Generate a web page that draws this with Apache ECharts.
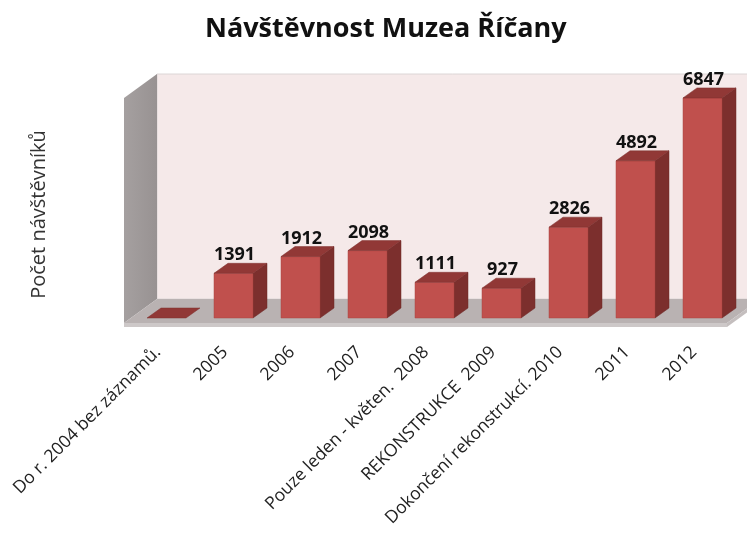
<!DOCTYPE html>
<html lang="cs">
<head>
    <meta charset="UTF-8">
    <title>Návštěvnost Muzea Říčany</title>
    <script src="https://cdn.jsdelivr.net/npm/echarts@6/dist/echarts.min.js"></script>
    <style>
        html, body { margin: 0; padding: 0; background: #fff; }
        #main { width: 747px; height: 533px; }
    </style>
</head>
<body>
<div id="main"></div>
<script>
    var categories = ['Do r. 2004 bez záznamů.', '2005', '2006', '2007', 'Pouze leden - květen.  2008',
        'REKONSTRUKCE  2009', 'Dokončení rekonstrukcí. 2010', '2011', '2012'];
    var visitors = [0, 1391, 1912, 2098, 1111, 927, 2826, 4892, 6847];
    var yMax = 7000;

    // hloubka 3D efektu (px)
    var WALL_DX = 33, WALL_DY = -24;
    var BAR_DX = 14, BAR_DY = -10;
    var BAR_W = 39;

    var font = '"Open Sans", Lato, sans-serif';
    var myChart = echarts.init(document.getElementById('main'));

    function renderWalls(params, api) {
        var cs = params.coordSys;
        var zero = api.coord([0, 0])[1];
        var h = api.size([0, yMax])[1];
        var x0 = cs.x - 9, x1 = cs.x + cs.width - 9;
        var yf = zero + 5;                 // predni hrana podlahy
        var yb = yf + WALL_DY;             // zadni hrana podlahy
        var xb0 = x0 + WALL_DX, xb1 = x1 + WALL_DX;
        return {
            type: 'group',
            children: [
                {   // zadni stena
                    type: 'polygon',
                    shape: {points: [[xb0, yb - h], [xb1, yb - h], [xb1, yb], [xb0, yb]]},
                    style: {fill: '#f5e9e9', stroke: '#dcd6d6', lineWidth: 1}
                },
                {   // bocni stena
                    type: 'polygon',
                    shape: {points: [[x0, yf - h], [xb0, yb - h], [xb0, yb], [x0, yf]]},
                    style: {
                        fill: new echarts.graphic.LinearGradient(0, 0, 1, 0, [
                            {offset: 0, color: '#a5a0a0'}, {offset: 1, color: '#989292'}
                        ])
                    }
                },
                {   // podlaha
                    type: 'polygon',
                    shape: {points: [[x0, yf], [xb0, yb], [xb1, yb], [x1, yf]]},
                    style: {fill: '#b9b2b2'}
                },
                {   // okraj podlahy
                    type: 'polygon',
                    shape: {points: [[x0, yf], [x1, yf], [x1, yf + 4], [x0, yf + 4]]},
                    style: {fill: '#cdc8c8'}
                },
                {
                    type: 'polygon',
                    shape: {points: [[x1, yf], [xb1, yb], [xb1, yb + 4], [x1, yf + 4]]},
                    style: {fill: '#c4bebe'}
                }
            ]
        };
    }

    function renderBar(params, api) {
        var idx = api.value(0), val = api.value(1);
        var top = api.coord([idx, val]);
        var base = api.coord([idx, 0]);
        var xl = top[0] - BAR_W / 2, xr = top[0] + BAR_W / 2;
        var yt = top[1], yb = base[1];
        var children = [];
        if (yb - yt > 0.5) {
            children.push({
                type: 'polygon',
                shape: {points: [[xr, yt], [xr + BAR_DX, yt + BAR_DY], [xr + BAR_DX, yb + BAR_DY], [xr, yb]]},
                style: {fill: '#7c2f2d', stroke: '#6e2826', lineWidth: 0.5}
            });
            children.push({
                type: 'rect',
                shape: {x: xl, y: yt, width: BAR_W, height: yb - yt},
                style: {fill: '#c0504d', stroke: '#a84542', lineWidth: 0.5}
            });
        }
        children.push({
            type: 'polygon',
            shape: {points: [[xl, yt], [xr, yt], [xr + BAR_DX, yt + BAR_DY], [xl + BAR_DX, yt + BAR_DY]]},
            style: {fill: '#913836', stroke: '#7e302e', lineWidth: 0.5}
        });
        if (val > 0) {
            children.push({
                type: 'text',
                style: {
                    x: top[0] + 1, y: yt - 9,
                    text: String(val),
                    fill: '#111',
                    font: 'bold 18px ' + font,
                    align: 'center', verticalAlign: 'bottom'
                }
            });
        }
        return {type: 'group', children: children};
    }

    var option = {
        animation: false,
        title: {
            text: 'Návštěvnost Muzea Říčany',
            left: 200,
            top: 11,
            textStyle: {fontFamily: font, fontWeight: 'bold', fontSize: 27, color: '#111'}
        },
        grid: {left: 133, right: 11, top: 93, bottom: 215},
        xAxis: {
            type: 'category',
            data: categories,
            axisLine: {show: false},
            axisTick: {show: false},
            axisLabel: {
                interval: 0,
                rotate: 45,
                margin: 23,
                padding: [0, 12, 0, 0],
                fontFamily: font,
                fontSize: 17.5,
                color: '#222'
            }
        },
        yAxis: {
            type: 'value',
            min: 0,
            max: yMax,
            name: 'Počet návštěvníků',
            nameLocation: 'middle',
            nameGap: 84,
            nameTextStyle: {fontFamily: font, fontSize: 20, color: '#333', padding: [0, 18, 0, 0]},
            axisLine: {show: false},
            axisTick: {show: false},
            axisLabel: {show: false},
            splitLine: {show: false}
        },
        series: [
            {
                type: 'custom',
                silent: true,
                renderItem: renderWalls,
                data: [[0, 0]],
                z: 1
            },
            {
                type: 'custom',
                renderItem: renderBar,
                data: visitors.map(function (v, i) { return [i, v]; }),
                z: 2
            }
        ]
    };
    myChart.setOption(option);
</script>
</body>
</html>
